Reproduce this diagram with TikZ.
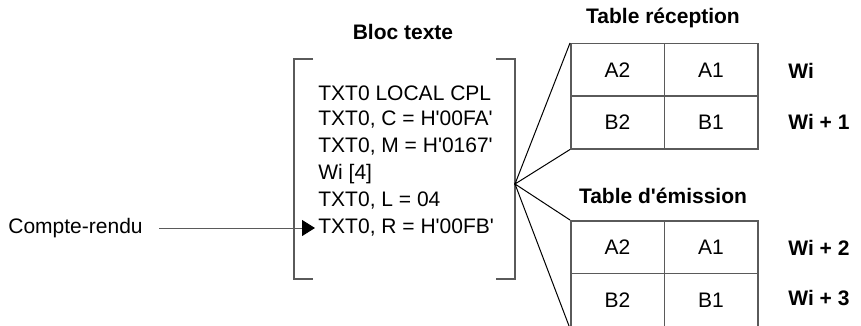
\documentclass[tikz,border=0pt]{standalone}
\usepackage{fontspec}
\setmainfont{Liberation Sans}[Ligatures=TeXOff]
\usetikzlibrary{arrows.meta}
\definecolor{linegray}{HTML}{5A5A5A}
\begin{document}
\begin{tikzpicture}[x=0.5pt,y=-0.5pt,
  every node/.style={font=\fontsize{10.5}{12}\selectfont, inner sep=0pt},
  cell/.style={draw=linegray, line width=0.75pt, minimum width=46.75pt, minimum height=26.25pt, anchor=north west},
  lastcell/.style={cell, minimum height=27.25pt},
  lbl/.style={font=\fontsize{10.5}{12}\selectfont\bfseries, anchor=west},
  title/.style={font=\fontsize{10.5}{12}\selectfont\bfseries},
  txtline/.style={anchor=west},
  brk/.style={draw=linegray, line width=0.75pt},
  fan/.style={draw=black, line width=0.5pt}]
\useasboundingbox (0,0) rectangle (861,326);
\clip (0,0) rectangle (861,326);
% bracket
\draw[brk] (313,59) -- (294,59) -- (294,279) -- (313,279);
\draw[brk] (496,59) -- (515,59) -- (515,279) -- (496,279);
% titles
\node[title] (tbloc) at (403,32) {Bloc texte};
\node[title] (trec) at (663,18) {Table réception};
\node[title] (temi) at (663,196) {Table d'émission};
% text lines
\node[txtline] (l1) at (318,93) {TXT0 LOCAL CPL};
\node[txtline] (l2) at (318,120) {TXT0, C = H'00FA'};
\node[txtline] (l3) at (318,147) {TXT0, M = H'0167'};
\node[txtline] (l4) at (318,174) {Wi [4]};
\node[txtline] (l5) at (318,201) {TXT0, L = 04};
\node[txtline] (l6) at (318,228) {TXT0, R = H'00FB'};
% compte-rendu
\node[anchor=west] (cr) at (8,228) {Compte-rendu};
\coordinate (crs) at (159,228);
\draw[draw=linegray, line width=0.5pt, -{Triangle[length=6.5pt,width=8pt,color=black]}] (crs) -- ([xshift=-1.5pt]l6.west);
% top table
\node[cell] (ra2) at (570,43) {A2};
\node[cell] (ra1) at (663.5,43) {A1};
\node[cell] (rb2) at (570,95.5) {B2};
\node[cell] (rb1) at (663.5,95.5) {B1};
% bottom table
\node[cell] (ea2) at (570,220) {A2};
\node[cell] (ea1) at (663.5,220) {A1};
\node[lastcell] (eb2) at (570,272.5) {B2};
\node[lastcell] (eb1) at (663.5,272.5) {B1};
% row labels
\node[lbl] (w0) at (788,71) {Wi};
\node[lbl] (w1) at (788,122) {Wi + 1};
\node[lbl] (w2) at (788,248) {Wi + 2};
\node[lbl] (w3) at (788,298) {Wi + 3};
% fan
\coordinate (fanp) at (515,184);
\draw[fan] (ra2.north west) -- (fanp) -- (rb2.south west);
\draw[fan] (ea2.north west) -- (fanp) -- (eb2.south west);
\end{tikzpicture}
\end{document}
